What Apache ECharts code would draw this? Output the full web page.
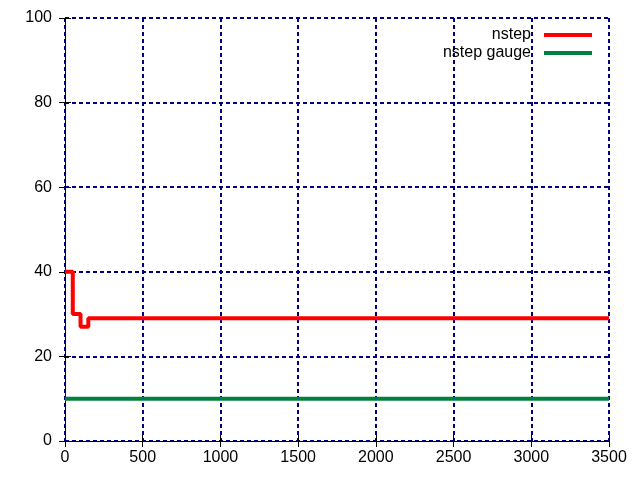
<!DOCTYPE html>
<html>
<head>
<meta charset="utf-8">
<script src="https://cdn.jsdelivr.net/npm/echarts@6/dist/echarts.min.js"></script>
<style>
  html, body { margin: 0; padding: 0; background: #fff; }
  #chart { width: 640px; height: 480px; }
</style>
</head>
<body>
<div id="chart"></div>
<script>
  // step series
  var nstepX = [0, 50, 100, 150, 3500];
  var nstepY = [40, 30, 27, 29, 29];
  var gaugeX = [0, 3500];
  var gaugeY = [10, 10];

  var xTicks = [0, 500, 1000, 1500, 2000, 2500, 3000, 3500];
  var yTicks = [0, 20, 40, 60, 80, 100];

  var font = 'Liberation Sans, Arial, sans-serif';

  function pairs(xs, ys) {
    return xs.map(function(x, i) { return [x, ys[i]]; });
  }

  var chart = echarts.init(document.getElementById('chart'));

  var gridLine = { show: true, lineStyle: { color: '#000080', type: [4, 3], width: 2 } };
  var plainLabel = function(v) { return String(v); };

  function legendFor(name, top) {
    return {
      data: [name], right: 43, top: top,
      align: 'right', itemWidth: 48, itemHeight: 4,
      icon: 'rect',
      textStyle: { fontFamily: font, fontSize: 16, color: '#000', padding: [0, 8, 0, 0] }
    };
  }

  chart.setOption({
    animation: false,
    backgroundColor: '#fff',
    grid: { left: 65, right: 31, top: 18, bottom: 39 },
    legend: [legendFor('nstep', 22), legendFor('nstep gauge', 40)],
    xAxis: [
      {
        type: 'value', min: xTicks[0], max: xTicks[xTicks.length - 1], interval: 500,
        axisLine: { show: true, onZero: false, lineStyle: { color: '#000', width: 1 } },
        axisTick: { show: true, inside: true, length: 6, lineStyle: { color: '#000' } },
        axisLabel: { fontFamily: font, fontSize: 16, color: '#000', margin: 9, formatter: plainLabel },
        splitLine: gridLine
      },
      {
        type: 'value', position: 'top', min: xTicks[0], max: xTicks[xTicks.length - 1], interval: 500,
        axisLine: { show: false },
        axisTick: { show: true, inside: true, length: 6, lineStyle: { color: '#000' } },
        axisLabel: { show: false },
        splitLine: { show: false }
      }
    ],
    yAxis: [
      {
        type: 'value', min: yTicks[0], max: yTicks[yTicks.length - 1], interval: 20,
        axisLine: { show: true, onZero: false, lineStyle: { color: '#000', width: 1 } },
        axisTick: { show: true, inside: true, length: 6, lineStyle: { color: '#000' } },
        axisLabel: { fontFamily: font, fontSize: 16, color: '#000', margin: 13, formatter: plainLabel },
        splitLine: gridLine
      },
      {
        type: 'value', position: 'right', min: yTicks[0], max: yTicks[yTicks.length - 1], interval: 20,
        axisLine: { show: false },
        axisTick: { show: true, inside: true, length: 6, lineStyle: { color: '#000' } },
        axisLabel: { show: false },
        splitLine: { show: false }
      }
    ],
    series: [
      {
        name: 'nstep', type: 'line', step: 'end',
        data: pairs(nstepX, nstepY),
        showSymbol: false, symbol: 'none',
        itemStyle: { color: '#ff0000' },
        lineStyle: { color: '#ff0000', width: 4 },
        z: 3
      },
      {
        name: 'nstep gauge', type: 'line',
        data: pairs(gaugeX, gaugeY),
        showSymbol: false, symbol: 'none',
        itemStyle: { color: '#008040' },
        lineStyle: { color: '#008040', width: 4 },
        z: 3
      }
    ]
  });
</script>
</body>
</html>
